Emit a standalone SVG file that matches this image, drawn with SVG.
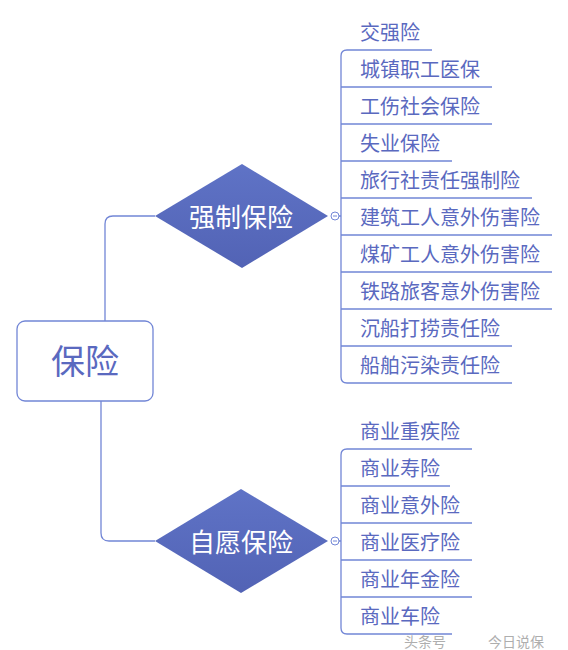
<svg xmlns="http://www.w3.org/2000/svg" width="568" height="650" viewBox="0 0 568 650">
<style>
.lbl{font-family:"Noto Sans CJK SC","Noto Sans",sans-serif;font-size:20px;fill:#5a69bf}
.con{fill:none;stroke:#7286d6;stroke-width:1.3}
.dtxt{font-family:"Noto Sans CJK SC","Noto Sans",sans-serif;font-size:26px;fill:#ffffff;text-anchor:middle}
.knob{fill:#ffffff;stroke:#7286d6;stroke-width:1}
.wm{font-family:"Noto Sans CJK SC",sans-serif;font-size:14px;fill:#9a9a9a;opacity:0.8}
</style>
<defs>
<linearGradient id="dg" x1="0" y1="0" x2="0" y2="1">
<stop offset="0" stop-color="#5f73c6"/>
<stop offset="1" stop-color="#5263b5"/>
</linearGradient>
</defs>
<rect width="568" height="650" fill="#ffffff"/>
<g id="connectors">
<path class="con" d="M105,321 V224 Q105,216 113,216 H155"/>
<path class="con" d="M101,401 V533 Q101,541 109,541 H155"/>
<path class="con" d="M341,56 Q341,50 347,50 H432"/>
<path class="con" d="M341,56 V377 Q341,383 347,383 H512"/>
<path class="con" d="M341,87 H492 M341,124 H492 M341,161 H452 M341,198 H532 M341,235 H552 M341,272 H552 M341,309 H552 M341,346 H512"/>
<path class="con" d="M341,455 Q341,449 347,449 H472"/>
<path class="con" d="M341,455 V628 Q341,634 347,634 H452"/>
<path class="con" d="M341,486 H450 M341,523 H472 M341,560 H472 M341,597 H472"/>
<path class="con" d="M339,216 H341 M339,541 H341"/>
</g>
<g id="root">
<rect x="17" y="321" width="136" height="80" rx="8" fill="#ffffff" stroke="#7286d6" stroke-width="1.3"/>
<text x="85" y="374" style="font-family:'Noto Sans CJK SC',sans-serif;font-size:34px;fill:#5a69bf;text-anchor:middle">保险</text>
</g>
<g id="mandatory">
<polygon points="155,216 242,164 328,216 242,268" fill="url(#dg)"/>
<text class="dtxt" x="241" y="227">强制保险</text>
<circle class="knob" cx="335" cy="216" r="4"/>
<line x1="333" y1="216" x2="337" y2="216" stroke="#7286d6" stroke-width="1"/>
</g>
<g id="voluntary">
<polygon points="155,541 241,489 328,541 241,593" fill="url(#dg)"/>
<text class="dtxt" x="241" y="552">自愿保险</text>
<circle class="knob" cx="335" cy="541" r="4"/>
<line x1="333" y1="541" x2="337" y2="541" stroke="#7286d6" stroke-width="1"/>
</g>
<g id="m1"><text class="lbl" x="360" y="40">交强险</text></g>
<g id="m2"><text class="lbl" x="360" y="77">城镇职工医保</text></g>
<g id="m3"><text class="lbl" x="360" y="114">工伤社会保险</text></g>
<g id="m4"><text class="lbl" x="360" y="151">失业保险</text></g>
<g id="m5"><text class="lbl" x="360" y="188">旅行社责任强制险</text></g>
<g id="m6"><text class="lbl" x="360" y="225">建筑工人意外伤害险</text></g>
<g id="m7"><text class="lbl" x="360" y="262">煤矿工人意外伤害险</text></g>
<g id="m8"><text class="lbl" x="360" y="299">铁路旅客意外伤害险</text></g>
<g id="m9"><text class="lbl" x="360" y="336">沉船打捞责任险</text></g>
<g id="m10"><text class="lbl" x="360" y="373">船舶污染责任险</text></g>
<g id="v1"><text class="lbl" x="360" y="439">商业重疾险</text></g>
<g id="v2"><text class="lbl" x="360" y="476">商业寿险</text></g>
<g id="v3"><text class="lbl" x="360" y="513">商业意外险</text></g>
<g id="v4"><text class="lbl" x="360" y="550">商业医疗险</text></g>
<g id="v5"><text class="lbl" x="360" y="587">商业年金险</text></g>
<g id="v6"><text class="lbl" x="360" y="624">商业车险</text></g>
<g id="watermark">
<text class="wm" x="404" y="647">头条号</text>
<text class="wm" x="488" y="647">今日说保</text>
</g>
</svg>
